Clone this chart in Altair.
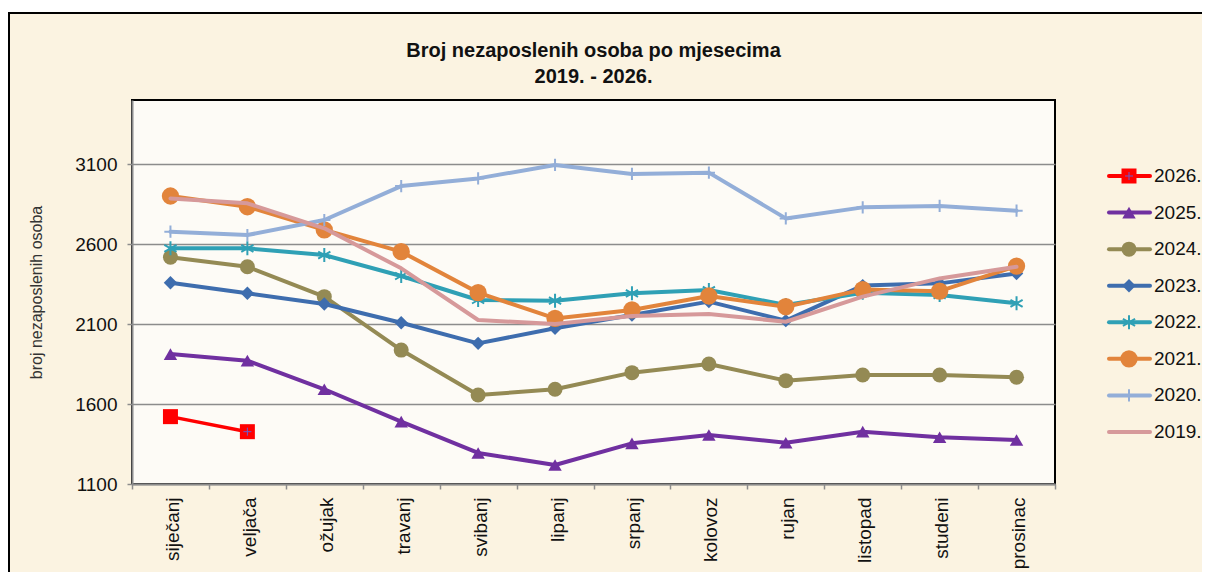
import altair as alt
import pandas as pd

months = ["siječanj", "veljača", "ožujak", "travanj", "svibanj", "lipanj",
          "srpanj", "kolovoz", "rujan", "listopad", "studeni", "prosinac"]
years = ["2026.", "2025.", "2024.", "2023.", "2022.", "2021.", "2020.", "2019."]
title_lines = ["Broj nezaposlenih osoba po mjesecima", "2019. - 2026."]

y2026 = [1521, 1427]
y2025 = [1912, 1871, 1692, 1490, 1294, 1219, 1354, 1406, 1358, 1427, 1392, 1375]
y2024 = [2517, 2458, 2271, 1937, 1656, 1692, 1796, 1850, 1746, 1781, 1781, 1767]
y2023 = [2358, 2292, 2225, 2108, 1979, 2073, 2156, 2240, 2121, 2340, 2354, 2415]
y2022 = [2573, 2573, 2531, 2400, 2250, 2246, 2292, 2312, 2219, 2295, 2281, 2229]
y2021 = [2900, 2833, 2688, 2552, 2296, 2135, 2188, 2275, 2208, 2315, 2305, 2462]
y2020 = [2677, 2656, 2750, 2962, 3010, 3094, 3038, 3046, 2760, 2829, 2838, 2808]
y2019 = [2885, 2854, 2698, 2448, 2125, 2100, 2150, 2162, 2114, 2271, 2385, 2458]

series = [y2026, y2025, y2024, y2023, y2022, y2021, y2020, y2019]
colors = ["#FF0000", "#7030A0", "#948A54", "#3E6DAE", "#2FA0B5", "#E2843B", "#93AED8", "#D6999A"]
y_ticks = [1100, 1600, 2100, 2600, 3100]

rows = []
for yr, vals in zip(years, series):
    for m, v in zip(months, vals):
        rows.append({"year": yr, "month": m, "value": v})
df = pd.DataFrame(rows)
leg_df = pd.DataFrame({"year": years, "label": years})
one = pd.DataFrame({"k": [0]})

FONT = "Liberation Sans"
GRAY = "#8c8c8c"

x_enc = alt.X("month:N", sort=months,
              scale=alt.Scale(type="band", domain=months, paddingInner=0, paddingOuter=0),
              axis=alt.Axis(title=None, labelAngle=270, labelFontSize=19, labelFont=FONT,
                            labelColor="#111", labelPadding=8, labelOffset=2, tickBand="extent",
                            tickSize=5, tickColor=GRAY, tickWidth=1.5, domainColor=GRAY,
                            domainWidth=2, grid=False))
y_enc = alt.Y("value:Q",
              scale=alt.Scale(domain=[1100, 3500], nice=False, zero=False),
              axis=alt.Axis(values=y_ticks, format="d", labelFontSize=19, labelFont=FONT,
                            labelColor="#111", labelPadding=10, tickSize=5, tickColor=GRAY,
                            tickWidth=1.5, domainColor=GRAY, domainWidth=2, grid=True,
                            gridColor=GRAY, gridWidth=1.5,
                            title="broj nezaposlenih  osoba", titleFont=FONT, titleFontSize=16,
                            titleFontWeight="normal", titleColor="#333", titleAngle=270,
                            titleX=-96, titleY=192, titleAlign="center", titleBaseline="middle"))
color_enc = alt.Color("year:N", scale=alt.Scale(domain=years, range=colors), legend=None)

ASTER = "M0,-1L0,1M-0.87,-0.5L0.87,0.5M-0.87,0.5L0.87,-0.5"
PLUS = "M-1,0L1,0M0,-1L0,1"

marker = {
    "2026.": dict(shape="square", filled=True, size=225),
    "2025.": dict(shape="triangle-up", filled=True, size=180),
    "2024.": dict(shape="circle", filled=True, size=225),
    "2023.": dict(shape="diamond", filled=True, size=180),
    "2022.": dict(shape=ASTER, filled=False, size=196, strokeWidth=2),
    "2021.": dict(shape="circle", filled=True, size=300),
    "2020.": dict(shape=PLUS, filled=False, size=150, strokeWidth=2),
}

# decorative frame (white strip above, black border on left and top)
white_strip = alt.Chart(one).mark_rect(fill="white").encode(
    x=alt.value(-130), x2=alt.value(1080), y=alt.value(-100), y2=alt.value(-88))
top_border = alt.Chart(one).mark_rule(color="black", strokeWidth=2).encode(
    x=alt.value(-124), x2=alt.value(1080), y=alt.value(-87))
left_border = alt.Chart(one).mark_rule(color="black", strokeWidth=2).encode(
    x=alt.value(-123), y=alt.value(-88), y2=alt.value(500))
title_text = alt.Chart(one).mark_text(
    text=title_lines, fontSize=20, fontWeight="bold", font=FONT, color="#111",
    align="center", baseline="alphabetic", lineHeight=26
).encode(x=alt.value(461.5), y=alt.value(-43))

main_layers = [white_strip, top_border, left_border, title_text]
for yr in years:
    base = alt.Chart(df).transform_filter(alt.datum.year == yr)
    main_layers.append(
        base.mark_line(strokeWidth=3.5 if yr == "2026." else 4, strokeJoin="round", strokeCap="round")
        .encode(x=x_enc, y=y_enc, color=color_enc))
    if yr in marker:
        main_layers.append(
            base.mark_point(opacity=1, **marker[yr]).encode(x=x_enc, y=y_enc, color=color_enc))
    if yr == "2026.":
        main_layers.append(
            base.transform_filter(alt.datum.month == "veljača")
            .mark_point(shape=PLUS, filled=False, size=64, strokeWidth=1, opacity=1, color="#6A5ACD")
            .encode(x=x_enc, y=y_enc))

ly = alt.Y("year:N", scale=alt.Scale(type="point", domain=years, range=[76, 332], padding=0), axis=None)
leg_layers = []
for yr in years:
    lb = alt.Chart(leg_df).transform_filter(alt.datum.year == yr)
    leg_layers.append(lb.mark_rule(strokeWidth=4, strokeCap="round").encode(
        x=alt.value(977), x2=alt.value(1018), y=ly, color=color_enc))
    if yr in marker:
        leg_layers.append(lb.mark_point(opacity=1, **marker[yr]).encode(
            x=alt.value(997), y=ly, color=color_enc))
    if yr == "2026.":
        leg_layers.append(lb.mark_point(shape=PLUS, filled=False, size=64, strokeWidth=1, opacity=1,
                                        color="#6A5ACD").encode(x=alt.value(997), y=ly))
leg_layers.append(alt.Chart(leg_df).mark_text(align="left", baseline="middle", fontSize=19,
                                              font=FONT, color="#111").encode(
    x=alt.value(1022), y=ly, text="label:N"))

chart = alt.layer(alt.layer(*main_layers), alt.layer(*leg_layers)).resolve_scale(
    y="independent"
).properties(
    width=923, height=384,
    autosize=alt.AutoSizeParams(type="none"),
    padding={"left": 124, "top": 92, "right": 147, "bottom": 88},
).configure(background="#FBF3E1").configure_view(
    fill="#FDFBF6", stroke="black", strokeWidth=2
)

chart.save("out.html", embed_options={"renderer": "svg", "actions": False})
